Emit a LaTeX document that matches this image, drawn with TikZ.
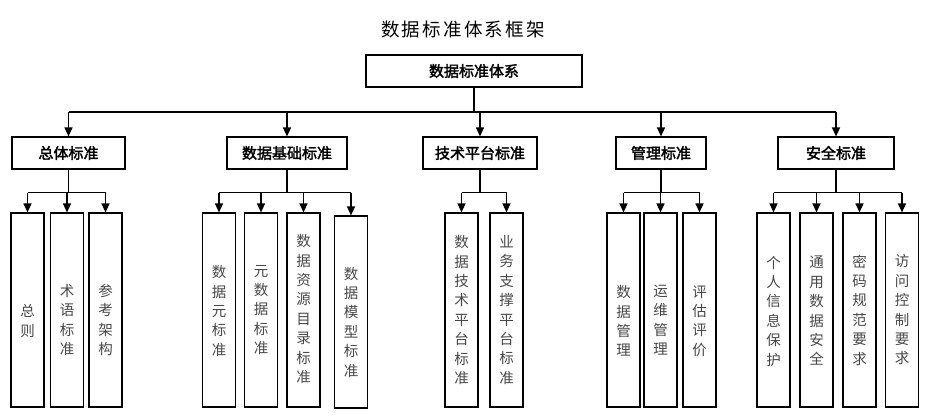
\documentclass[tikz,border=0pt]{standalone}
\usepackage{fontspec}
\newfontfamily\cjk{Noto Sans CJK SC}
\newfontfamily\cjkb[FakeBold=2.2]{Noto Sans CJK SC}
\newfontfamily\cjkt[LetterSpace=12]{Noto Sans CJK SC}
\usetikzlibrary{arrows.meta,calc}
\begin{document}
\begin{tikzpicture}[x=1pt,y=-1pt,
  boxline/.style={draw,line width=1.2pt,inner sep=0pt},
  rootbox/.style={boxline,minimum width=216pt,minimum height=32pt,font=\cjkb\fontsize{15}{18}\selectfont},
  catbox/.style={boxline,minimum height=32pt,font=\cjkb\fontsize{15}{18}\selectfont},
  leafbox/.style={boxline,minimum width=33pt,minimum height=194pt},
  leaftxt/.style={inner sep=0pt,align=center,text=black!72,font=\cjk\fontsize{14.5}{19.4}\selectfont},
  titletxt/.style={inner sep=0pt,font=\cjkt\fontsize{18.5}{22}\selectfont},
  busline/.style={line width=2pt},
  subline/.style={line width=1.6pt},
  arr/.style={line width=1.4pt,-{Triangle[width=8pt,length=9pt]}}
]
\useasboundingbox (0,0) rectangle (929,416);
\fill[white] (0,0) rectangle (929,416);

\node[titletxt] (title) at (463,29) {数据标准体系框架};
\node[rootbox] (root) at (474,71) {数据标准体系};

% level 1
\node[catbox,minimum width=113pt] (A) at (68.5,153) {总体标准};
\node[catbox,minimum width=120pt] (B) at (287,153) {数据基础标准};
\node[catbox,minimum width=114pt] (C) at (480,153) {技术平台标准};
\node[catbox,minimum width=90pt]  (D) at (661,153) {管理标准};
\node[catbox,minimum width=116pt] (E) at (836,153) {安全标准};

% leaves
\node[leafbox] (A1) at (27.5,310) {};
\node[leafbox] (A2) at (67,310) {};
\node[leafbox] (A3) at (105.5,310) {};
\node[leafbox] (B1) at (219,310) {};
\node[leafbox] (B2) at (261,310) {};
\node[leafbox] (B3) at (303.5,310) {};
\node[leafbox,minimum height=192pt] (B4) at (351,312) {};
\node[leafbox] (C1) at (461.5,310) {};
\node[leafbox] (C2) at (506.5,310) {};
\node[leafbox] (D1) at (623.5,310) {};
\node[leafbox] (D2) at (660.5,310) {};
\node[leafbox] (D3) at (699.5,310) {};
\node[leafbox] (E1) at (773.5,310) {};
\node[leafbox] (E2) at (816.5,310) {};
\node[leafbox] (E3) at (859.5,310) {};
\node[leafbox] (E4) at (902,310) {};

% leaf texts
\node[leaftxt] (tA1) at ($(A1)+(0,11)$) {总\\则};
\node[leaftxt] (tA2) at ($(A2)+(0,10)$) {术\\语\\标\\准};
\node[leaftxt] (tA3) at ($(A3)+(0,10)$) {参\\考\\架\\构};
\node[leaftxt] (tB1) at ($(B1)+(0,1)$) {数\\据\\元\\标\\准};
\node[leaftxt] (tB2) at ($(B2)+(0,0)$) {元\\数\\据\\标\\准};
\node[leaftxt] (tB3) at ($(B3)+(0,-1)$) {数\\据\\资\\源\\目\\录\\标\\准};
\node[leaftxt] (tB4) at ($(B4)+(0,10)$) {数\\据\\模\\型\\标\\准};
\node[leaftxt] (tC1) at ($(C1)+(0,0)$) {数\\据\\技\\术\\平\\台\\标\\准};
\node[leaftxt] (tC2) at ($(C2)+(0,0)$) {业\\务\\支\\撑\\平\\台\\标\\准};
\node[leaftxt] (tD1) at ($(D1)+(0,11)$) {数\\据\\管\\理};
\node[leaftxt] (tD2) at ($(D2)+(0,10)$) {运\\维\\管\\理};
\node[leaftxt] (tD3) at ($(D3)+(0,11)$) {评\\估\\评\\价};
\node[leaftxt] (tE1) at ($(E1)+(0,1)$) {个\\人\\信\\息\\保\\护};
\node[leaftxt] (tE2) at ($(E2)+(0,1)$) {通\\用\\数\\据\\安\\全};
\node[leaftxt] (tE3) at ($(E3)+(0,0)$) {密\\码\\规\\范\\要\\求};
\node[leaftxt] (tE4) at ($(E4)+(0,0)$) {访\\问\\控\\制\\要\\求};

% root connectors
\coordinate (rj) at ($(root.south)+(0,24)$);
\draw[busline] (root.south) -- (rj);
\draw[busline] (A.north |- rj) -- (E.north |- rj);
\foreach \n in {A,B,C,D,E} \draw[arr] (\n.north |- rj) -- (\n.north);

% group connectors
\foreach \p/\first/\last/\kids in {A/A1/A3/{A1,A2,A3},B/B1/B4/{B1,B2,B3,B4},C/C1/C2/{C1,C2},D/D1/D3/{D1,D2,D3},E/E1/E4/{E1,E2,E3,E4}}{
  \coordinate (\p j) at ($(\p.south)+(0,23)$);
  \draw[subline] (\p.south) -- (\p j);
  \draw[subline] (\first.north |- \p j) -- (\last.north |- \p j);
  \foreach \k in \kids \draw[arr] (\k.north |- \p j) -- (\k.north);
}
\end{tikzpicture}
\end{document}
